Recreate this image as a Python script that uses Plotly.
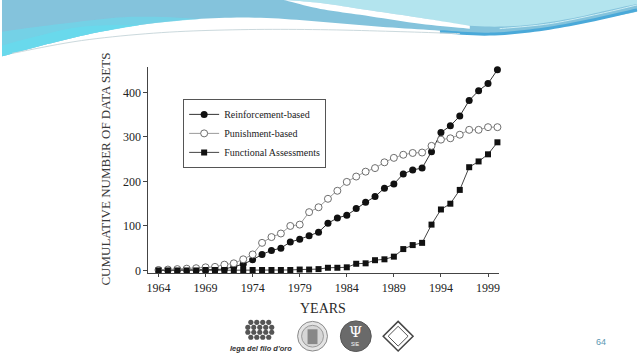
import plotly.graph_objects as go

# ---------------- data ----------------
years = list(range(1964, 2001))
reinforcement = [1, 1, 1, 1, 1, 1, 2, 3, 9, 14, 24, 36, 45, 50, 64, 70, 78, 86, 106, 118,
                 124, 139, 153, 166, 185, 194, 217, 226, 230, 267, 310, 325, 347, 382, 404, 420, 451]
punishment = [1, 2, 3, 4, 5, 7, 8, 13, 16, 25, 36, 62, 75, 83, 100, 103, 131, 142, 161, 179,
              199, 211, 222, 230, 243, 253, 260, 264, 265, 280, 294, 297, 305, 316, 316, 322, 322]
functional = [0, 0, 0, 0, 0, 1, 1, 1, 1, 1, 1, 1, 1, 1, 1, 2, 2, 3, 6, 6,
              7, 15, 16, 23, 25, 31, 48, 57, 62, 103, 137, 150, 181, 232, 245, 261, 288]
x_ticks = [1964, 1969, 1974, 1979, 1984, 1989, 1994, 1999]
x_tick_labels = ["1964", "1969", "1974", "1979", "1984", "1989", "1994", "1999"]
y_ticks = [0, 100, 200, 300, 400]
series_names = ["Reinforcement-based", "Punishment-based", "Functional Assessments"]

W, H = 638, 359
SERIF = "Liberation Serif, Times New Roman, serif"


def px(x):
    return x / W


def py(y):
    return 1 - y / H


def smooth(points, n=10):
    P = [points[0]] + list(points) + [points[-1]]
    out = []
    for i in range(1, len(P) - 2):
        p0, p1, p2, p3 = P[i - 1], P[i], P[i + 1], P[i + 2]
        for k in range(n):
            t = k / n
            t2, t3 = t * t, t * t * t
            pt = []
            for d in range(2):
                pt.append(0.5 * ((2 * p1[d]) + (-p0[d] + p2[d]) * t
                                 + (2 * p0[d] - 5 * p1[d] + 4 * p2[d] - p3[d]) * t2
                                 + (-p0[d] + 3 * p1[d] - 3 * p2[d] + p3[d]) * t3))
            out.append(tuple(pt))
    out.append(points[-1])
    return out


def path(pts, close=True):
    s = "M " + " L ".join(f"{px(x):.5f},{py(y):.5f}" for x, y in pts)
    return s + (" Z" if close else "")


shapes = []


def add_poly(pts, color, opacity=1.0):
    shapes.append(dict(type="path", xref="paper", yref="paper", path=path(pts),
                       fillcolor=color, line=dict(width=0), opacity=opacity, layer="below"))


def add_line(pts, color, width):
    shapes.append(dict(type="path", xref="paper", yref="paper", path=path(pts, close=False),
                       line=dict(color=color, width=width), layer="below"))


def add_circle(cx, cy, r, fill, line_color=None, lw=0):
    shapes.append(dict(type="circle", xref="paper", yref="paper",
                       x0=px(cx - r), x1=px(cx + r), y0=py(cy + r), y1=py(cy - r),
                       fillcolor=fill, line=dict(color=line_color or fill, width=lw), layer="above"))


# ---------------- slide decoration (top waves) ----------------
L = [(0, 57), (40, 46), (90, 34), (140, 25), (200, 19), (260, 18), (320, 22), (380, 27),
     (440, 31), (480, 34), (530, 31), (580, 23), (638, 12)]
add_poly([(0, 0)] + smooth(L) + [(638, 0)], "#84c3dc")
# lighter cyan glow bottom-left
add_poly(smooth(L[:5]) + smooth([(200, 19), (130, 17), (60, 24), (0, 32)]), "#6fd6ea", 0.75)
add_poly(smooth(L[:4]) + smooth([(140, 25), (80, 27), (30, 38), (0, 46)]), "#66dbee", 0.8)
# light cyan top right
R = [(283, 0), (320, 3), (360, 9), (420, 18), (470, 26), (520, 26), (570, 19), (610, 10), (638, 4)]
add_poly(smooth(R) + [(638, 0)], "#b3e4ee")
# white swoosh
Wl = [(283, 0), (320, 9), (360, 15), (420, 24), (470, 29)]
add_poly(smooth(R[:5]) + list(reversed(smooth(Wl))), "#ffffff")
# darker blue stroke on the right
add_line(smooth([(440, 32), (490, 34.5), (540, 30), (590, 21), (638, 10)]), "#4aa9d9", 3)
add_line(smooth([(500, 29), (550, 24), (600, 14), (638, 5)]), "#cdeef5", 1)
# thin grey line under the band
add_line(smooth([(10, 54), (80, 41), (160, 33), (240, 30), (320, 30), (400, 32), (460, 34)]),
         "#cbd9dd", 1)

# ---------------- logos at the bottom ----------------
for ry, xs in [(326, [250, 256, 262, 268]), (331, [247, 253, 259, 265, 271]),
               (336, [247, 253, 259, 265, 271]), (341, [250, 256, 262, 268])]:
    for cx in xs:
        add_circle(cx, ry, 2.6, "#555555")
add_circle(312, 340, 15, "#e4e4e4", "#8a8a8a", 1)
add_circle(312, 340, 11, "#d6d6d6", "#9a9a9a", 1)
shapes.append(dict(type="rect", xref="paper", yref="paper", x0=px(307), x1=px(317),
                   y0=py(348), y1=py(333), fillcolor="#888888", line=dict(width=0)))
add_circle(355.5, 340, 15.5, "#6a6a6a", "#555555", 1)
shapes.append(dict(type="path", xref="paper", yref="paper",
                   path=path([(398, 325), (413, 340), (398, 355), (383, 340)]),
                   fillcolor="#ffffff", line=dict(color="#444444", width=1.5)))
shapes.append(dict(type="path", xref="paper", yref="paper",
                   path=path([(398, 330), (408, 340), (398, 350), (388, 340)]),
                   fillcolor="rgba(0,0,0,0)", line=dict(color="#555555", width=1)))

# ---------------- chart ----------------
fig = go.Figure()
fig.add_trace(go.Scatter(
    x=years, y=reinforcement, mode="lines+markers", name=series_names[0],
    line=dict(color="#333333", width=1),
    marker=dict(symbol="circle", size=7, color="#111111"), cliponaxis=False))
fig.add_trace(go.Scatter(
    x=years, y=punishment, mode="lines+markers", name=series_names[1],
    line=dict(color="#9a9a9a", width=1),
    marker=dict(symbol="circle", size=7, color="#ffffff", line=dict(color="#6e6e6e", width=1)),
    cliponaxis=False))
fig.add_trace(go.Scatter(
    x=years, y=functional, mode="lines+markers", name=series_names[2],
    line=dict(color="#444444", width=1),
    marker=dict(symbol="square", size=6, color="#111111"), cliponaxis=False))

annotations = [
    dict(text="CUMULATIVE NUMBER OF DATA SETS", x=px(104), y=py(171), xref="paper", yref="paper",
         textangle=-90, showarrow=False, font=dict(family=SERIF, size=13, color="#3a3a3a"),
         xanchor="center", yanchor="middle"),
    dict(text="YEARS", x=px(323), y=py(312), xref="paper", yref="paper", showarrow=False,
         font=dict(family=SERIF, size=14, color="#2a2a2a"), xanchor="center", yanchor="middle"),
    dict(text="<b><i>lega del filo d'oro</i></b>", x=px(260), y=py(352), xref="paper", yref="paper",
         showarrow=False, font=dict(family="Liberation Sans, Arial, sans-serif", size=7.5,
                                    color="#333333"), xanchor="center", yanchor="middle"),
    dict(text="Ψ", x=px(355.5), y=py(336), xref="paper", yref="paper", showarrow=False,
         font=dict(family="DejaVu Serif, serif", size=15, color="#ffffff"),
         xanchor="center", yanchor="middle"),
    dict(text="SIE", x=px(355.5), y=py(348), xref="paper", yref="paper", showarrow=False,
         font=dict(family="Liberation Sans, sans-serif", size=5, color="#ffffff"),
         xanchor="center", yanchor="middle"),
    dict(text="64", x=px(602), y=py(346), xref="paper", yref="paper", showarrow=False,
         font=dict(family="Liberation Sans, Arial, sans-serif", size=9, color="#5b98b3"),
         xanchor="center", yanchor="middle"),
]

fig.update_layout(
    width=W, height=H, autosize=False,
    margin=dict(l=0, r=0, t=0, b=0, pad=0),
    paper_bgcolor="#ffffff", plot_bgcolor="rgba(0,0,0,0)",
    shapes=shapes, annotations=annotations,
    showlegend=True,
    legend=dict(x=px(182), y=py(100), xanchor="left", yanchor="top",
                bgcolor="#ffffff", bordercolor="#555555", borderwidth=1,
                font=dict(family=SERIF, size=10, color="#222222"),
                itemwidth=30, traceorder="normal", tracegroupgap=0),
    xaxis=dict(domain=[px(147), px(499)], range=[1962.92, 2000.13],
               tickvals=x_ticks, ticktext=x_tick_labels, ticks="outside", ticklen=3,
               tickcolor="#444444", showline=True, linecolor="#444444", linewidth=1,
               showgrid=False, zeroline=False,
               tickfont=dict(family=SERIF, size=12, color="#222222")),
    yaxis=dict(domain=[1 - 276.5 / H, 1 - 68 / H], range=[-6.7, 456.7],
               tickvals=y_ticks, ticks="outside", ticklen=4,
               tickcolor="#444444", showline=True, linecolor="#444444", linewidth=1,
               showgrid=False, zeroline=False,
               tickfont=dict(family=SERIF, size=12, color="#222222")),
)

fig.write_html("out.html", config={"displayModeBar": False},
               post_script="document.body.style.margin='0';document.body.style.overflow='hidden';")
